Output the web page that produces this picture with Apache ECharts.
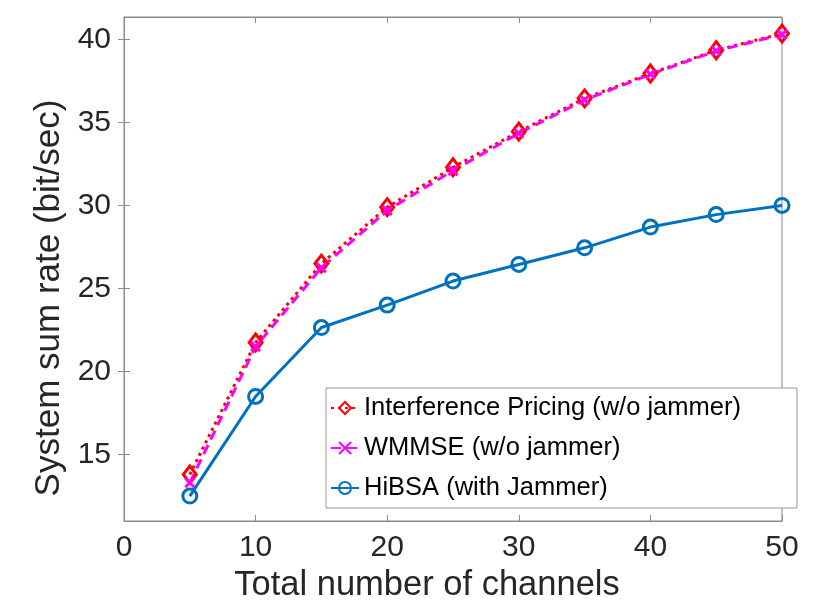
<!DOCTYPE html>
<html>
<head>
<meta charset="utf-8">
<script src="https://cdn.jsdelivr.net/npm/echarts@6/dist/echarts.min.js"></script>
<style>
  html, body { margin: 0; padding: 0; background: #fff; }
  #chart { width: 830px; height: 608px; }
</style>
</head>
<body>
<div id="chart"></div>
<script>
// data
var channels = [5, 10, 15, 20, 25, 30, 35, 40, 45, 50];
var pricing = [13.8, 21.75, 26.5, 29.9, 32.3, 34.45, 36.45, 37.95, 39.35, 40.35];
var wmmse = [13.3, 21.5, 26.25, 29.7, 32.1, 34.35, 36.35, 37.9, 39.3, 40.3];
var hibsa = [12.5, 18.5, 22.65, 24.0, 25.45, 26.45, 27.45, 28.7, 29.45, 30.0];
var yTicks = [15, 20, 25, 30, 35, 40];
var names = ['Interference Pricing (w/o jammer)', 'WMMSE (w/o jammer)', 'HiBSA (with Jammer)'];

var font = 'Liberation Sans, Arial, Helvetica, sans-serif';
var axisGray = '#8a8a8a';
var textColor = '#262626';

function pairs(ys) {
    return channels.map(function (x, i) { return [x, ys[i]]; });
}

var chart = echarts.init(document.getElementById('chart'), null, { renderer: 'canvas' });

var option = {
    backgroundColor: '#fff',
    animation: false,
    textStyle: { fontFamily: font },
    grid: {
        left: 124, right: 48, top: 17, bottom: 85,
        show: true, borderColor: axisGray, borderWidth: 1, backgroundColor: '#fff'
    },
    legend: {
        orient: 'vertical',
        left: 326, top: 388,
        padding: [6, 56, 6, 4],
        itemWidth: 28, itemHeight: 15,
        itemGap: 12,
        backgroundColor: '#fff',
        borderColor: '#999',
        borderWidth: 1,
        textStyle: { fontFamily: font, fontSize: 25.5, color: '#000', lineHeight: 28 },
        data: names
    },
    xAxis: [{
        type: 'value', min: 0, max: 50, interval: 10,
        name: 'Total number of channels', nameLocation: 'middle', nameGap: 47,
        nameTextStyle: { fontFamily: font, fontSize: 34.5, color: textColor, padding: [0, 52, 0, 0] },
        axisLine: { lineStyle: { color: axisGray } },
        axisTick: { inside: true, length: 6, lineStyle: { color: axisGray } },
        axisLabel: { fontFamily: font, fontSize: 30, color: textColor, margin: 12 },
        splitLine: { show: false }
    }, {
        type: 'value', position: 'top', min: 0, max: 50, interval: 10,
        axisLine: { show: true, lineStyle: { color: axisGray } },
        axisTick: { inside: true, length: 6, lineStyle: { color: axisGray } },
        axisLabel: { show: false },
        splitLine: { show: false }
    }],
    yAxis: [{
        type: 'value', min: 11, max: 41.35,
        name: 'System sum rate (bit/sec)', nameLocation: 'middle', nameGap: 50,
        nameTextStyle: { fontFamily: font, fontSize: 35, color: textColor, padding: [0, 58, 0, 0] },
        axisLine: { show: true, lineStyle: { color: axisGray } },
        axisTick: { inside: true, length: 6, customValues: yTicks, lineStyle: { color: axisGray } },
        axisLabel: { fontFamily: font, fontSize: 30, color: textColor, margin: 13, customValues: yTicks },
        splitLine: { show: false }
    }, {
        type: 'value', position: 'right', min: 11, max: 41.35,
        axisLine: { show: true, lineStyle: { color: axisGray } },
        axisTick: { inside: true, length: 6, customValues: yTicks, lineStyle: { color: axisGray } },
        axisLabel: { show: false },
        splitLine: { show: false }
    }],
    series: [{
        name: names[0], type: 'line', data: pairs(pricing),
        symbol: 'diamond', symbolSize: [13, 17],
        lineStyle: { color: '#ff0000', width: 3, type: [3, 4] },
        itemStyle: { color: 'rgba(0,0,0,0)', borderColor: '#ff0000', borderWidth: 3 }
    }, {
        name: names[1], type: 'line', data: pairs(wmmse),
        symbol: 'path://M0,0L10,10M0,10L10,0', symbolSize: 9,
        lineStyle: { color: '#ff00ff', width: 3, type: [10, 6] },
        itemStyle: { color: '#ff00ff', borderColor: '#ff00ff', borderWidth: 3 }
    }, {
        name: names[2], type: 'line', data: pairs(hibsa),
        symbol: 'circle', symbolSize: 14,
        lineStyle: { color: '#0072bd', width: 3 },
        itemStyle: { color: 'rgba(0,0,0,0)', borderColor: '#0072bd', borderWidth: 3 }
    }]
};

chart.setOption(option);
</script>
</body>
</html>
